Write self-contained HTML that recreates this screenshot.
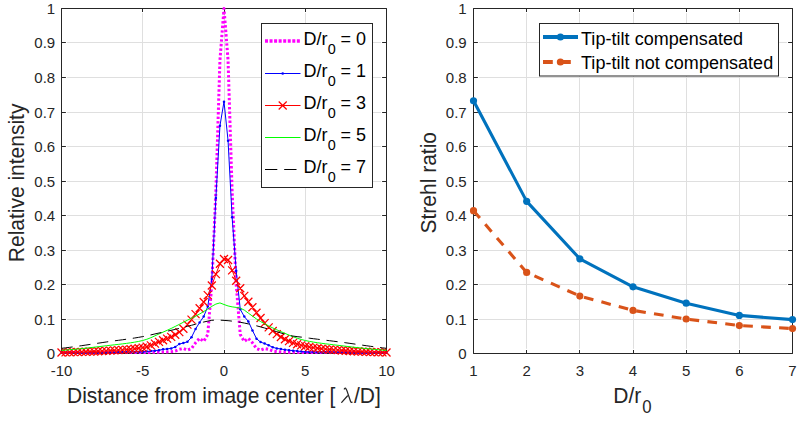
<!DOCTYPE html>
<html><head><meta charset="utf-8"><title>PSF and Strehl ratio</title>
<style>html,body{margin:0;padding:0;background:#fff;}body{width:805px;height:422px;position:relative;overflow:hidden;font-family:"Liberation Sans",sans-serif;}</style></head>
<body>
<svg width="805" height="422" viewBox="0 0 805 422" style="position:absolute;left:0;top:0">
<rect width="805" height="422" fill="#fff"/>
<path d="M142.5,13.2 V348.8 M224.5,13.2 V348.8 M305.5,13.2 V348.8 M67.1,319.5 H380.9 M67.1,284.5 H380.9 M67.1,250.5 H380.9 M67.1,215.5 H380.9 M67.1,181.5 H380.9 M67.1,146.5 H380.9 M67.1,112.5 H380.9 M67.1,77.5 H380.9 M67.1,42.5 H380.9" stroke="#dfdfdf" stroke-width="1" fill="none"/>
<path d="M526.5,13.2 V348.8 M579.5,13.2 V348.8 M633.5,13.2 V348.8 M686.5,13.2 V348.8 M739.5,13.2 V348.8 M479.1,319.5 H786.9 M479.1,284.5 H786.9 M479.1,250.5 H786.9 M479.1,215.5 H786.9 M479.1,181.5 H786.9 M479.1,146.5 H786.9 M479.1,112.5 H786.9 M479.1,77.5 H786.9 M479.1,42.5 H786.9" stroke="#dfdfdf" stroke-width="1" fill="none"/>
<path d="M61.5,8.5 H386.5 V353.5 H61.5 Z M61.5,353.5 v-3.5 M61.5,8.5 v3.5 M142.5,353.5 v-3.5 M142.5,8.5 v3.5 M224.5,353.5 v-3.5 M224.5,8.5 v3.5 M305.5,353.5 v-3.5 M305.5,8.5 v3.5 M386.5,353.5 v-3.5 M386.5,8.5 v3.5 M61.5,353.5 h4.4 M386.5,353.5 h-4.4 M61.5,319.5 h4.4 M386.5,319.5 h-4.4 M61.5,284.5 h4.4 M386.5,284.5 h-4.4 M61.5,250.5 h4.4 M386.5,250.5 h-4.4 M61.5,215.5 h4.4 M386.5,215.5 h-4.4 M61.5,181.5 h4.4 M386.5,181.5 h-4.4 M61.5,146.5 h4.4 M386.5,146.5 h-4.4 M61.5,112.5 h4.4 M386.5,112.5 h-4.4 M61.5,77.5 h4.4 M386.5,77.5 h-4.4 M61.5,42.5 h4.4 M386.5,42.5 h-4.4 M61.5,8.5 h4.4 M386.5,8.5 h-4.4" stroke="#262626" stroke-width="1" fill="none"/>
<path d="M473.5,8.5 H792.5 V353.5 H473.5 Z M473.5,353.5 v-3.5 M473.5,8.5 v3.5 M526.5,353.5 v-3.5 M526.5,8.5 v3.5 M579.5,353.5 v-3.5 M579.5,8.5 v3.5 M633.5,353.5 v-3.5 M633.5,8.5 v3.5 M686.5,353.5 v-3.5 M686.5,8.5 v3.5 M739.5,353.5 v-3.5 M739.5,8.5 v3.5 M792.5,353.5 v-3.5 M792.5,8.5 v3.5 M473.5,353.5 h4.4 M792.5,353.5 h-4.4 M473.5,319.5 h4.4 M792.5,319.5 h-4.4 M473.5,284.5 h4.4 M792.5,284.5 h-4.4 M473.5,250.5 h4.4 M792.5,250.5 h-4.4 M473.5,215.5 h4.4 M792.5,215.5 h-4.4 M473.5,181.5 h4.4 M792.5,181.5 h-4.4 M473.5,146.5 h4.4 M792.5,146.5 h-4.4 M473.5,112.5 h4.4 M792.5,112.5 h-4.4 M473.5,77.5 h4.4 M792.5,77.5 h-4.4 M473.5,42.5 h4.4 M792.5,42.5 h-4.4 M473.5,8.5 h4.4 M792.5,8.5 h-4.4" stroke="#262626" stroke-width="1" fill="none"/>
<g fill="none" stroke-linejoin="round">
<path d="M61.50,352.46 L65.56,352.46 L69.62,352.46 L73.69,352.46 L77.75,352.46 L81.81,352.46 L85.88,352.46 L89.94,352.46 L94.00,352.46 L98.06,352.46 L102.12,352.46 L106.19,352.46 L110.25,352.46 L114.31,352.46 L118.38,352.46 L122.44,352.46 L126.50,352.46 L130.56,352.46 L134.62,352.46 L138.69,352.46 L142.75,352.46 L146.81,352.46 L150.88,352.36 L154.94,352.29 L159.00,352.19 L163.06,352.05 L167.12,351.91 L171.19,351.71 L175.25,351.02 L179.31,349.36 L183.38,348.50 L187.44,350.12 L191.50,348.50 L195.56,342.81 L199.62,338.32 L203.69,341.43 L207.75,334.52 L211.81,284.50 L215.88,191.35 L219.94,60.25 L224.00,8.50 L228.06,60.25 L232.12,191.35 L236.19,284.50 L240.25,334.52 L244.31,341.43 L248.37,338.32 L252.44,342.81 L256.50,348.50 L260.56,350.12 L264.62,348.50 L268.69,349.36 L272.75,351.02 L276.81,351.71 L280.88,351.91 L284.94,352.05 L289.00,352.19 L293.06,352.29 L297.12,352.36 L301.19,352.46 L305.25,352.46 L309.31,352.46 L313.38,352.46 L317.44,352.46 L321.50,352.46 L325.56,352.46 L329.62,352.46 L333.69,352.46 L337.75,352.46 L341.81,352.46 L345.88,352.46 L349.94,352.46 L354.00,352.46 L358.06,352.46 L362.12,352.46 L366.19,352.46 L370.25,352.46 L374.31,352.46 L378.38,352.46 L382.44,352.46 L386.50,352.46" stroke="#ff00ff" stroke-width="3" stroke-dasharray="2.4 2.15"/>
<path d="M61.50,352.81 L65.56,352.78 L69.62,352.75 L73.69,352.72 L77.75,352.69 L81.81,352.67 L85.88,352.64 L89.94,352.61 L94.00,352.58 L98.06,352.55 L102.12,352.52 L106.19,352.49 L110.25,352.46 L114.31,352.40 L118.38,352.34 L122.44,352.27 L126.50,352.21 L130.56,352.14 L134.62,352.08 L138.69,352.01 L142.75,351.95 L146.81,351.51 L150.88,351.07 L154.94,350.63 L159.00,350.19 L163.06,349.36 L167.12,348.91 L171.19,348.39 L175.25,346.94 L179.31,344.01 L183.38,343.01 L187.44,341.77 L191.50,337.29 L195.56,329.00 L199.62,322.45 L203.69,316.58 L207.75,306.58 L211.81,278.98 L215.88,197.91 L219.94,125.80 L224.00,101.65 L228.06,140.63 L232.12,217.22 L236.19,270.70 L240.25,309.34 L244.31,316.58 L248.37,321.42 L252.44,330.38 L256.50,338.67 L260.56,342.12 L264.62,343.50 L268.69,345.22 L272.75,347.29 L276.81,348.39 L280.88,349.01 L284.94,349.70 L289.00,350.19 L293.06,350.63 L297.12,351.07 L301.19,351.51 L305.25,351.95 L309.31,352.01 L313.38,352.08 L317.44,352.14 L321.50,352.21 L325.56,352.27 L329.62,352.34 L333.69,352.40 L337.75,352.46 L341.81,352.49 L345.88,352.52 L349.94,352.55 L354.00,352.58 L358.06,352.61 L362.12,352.64 L366.19,352.67 L370.25,352.69 L374.31,352.72 L378.38,352.75 L382.44,352.78 L386.50,352.81" stroke="#0000ff" stroke-width="1"/>
<g fill="#0000ff" stroke="none"><circle cx="61.50" cy="352.81" r="1.25"/><circle cx="65.56" cy="352.78" r="1.25"/><circle cx="69.62" cy="352.75" r="1.25"/><circle cx="73.69" cy="352.72" r="1.25"/><circle cx="77.75" cy="352.69" r="1.25"/><circle cx="81.81" cy="352.67" r="1.25"/><circle cx="85.88" cy="352.64" r="1.25"/><circle cx="89.94" cy="352.61" r="1.25"/><circle cx="94.00" cy="352.58" r="1.25"/><circle cx="98.06" cy="352.55" r="1.25"/><circle cx="102.12" cy="352.52" r="1.25"/><circle cx="106.19" cy="352.49" r="1.25"/><circle cx="110.25" cy="352.46" r="1.25"/><circle cx="114.31" cy="352.40" r="1.25"/><circle cx="118.38" cy="352.34" r="1.25"/><circle cx="122.44" cy="352.27" r="1.25"/><circle cx="126.50" cy="352.21" r="1.25"/><circle cx="130.56" cy="352.14" r="1.25"/><circle cx="134.62" cy="352.08" r="1.25"/><circle cx="138.69" cy="352.01" r="1.25"/><circle cx="142.75" cy="351.95" r="1.25"/><circle cx="146.81" cy="351.51" r="1.25"/><circle cx="150.88" cy="351.07" r="1.25"/><circle cx="154.94" cy="350.63" r="1.25"/><circle cx="159.00" cy="350.19" r="1.25"/><circle cx="163.06" cy="349.36" r="1.25"/><circle cx="167.12" cy="348.91" r="1.25"/><circle cx="171.19" cy="348.39" r="1.25"/><circle cx="175.25" cy="346.94" r="1.25"/><circle cx="179.31" cy="344.01" r="1.25"/><circle cx="183.38" cy="343.01" r="1.25"/><circle cx="187.44" cy="341.77" r="1.25"/><circle cx="191.50" cy="337.29" r="1.25"/><circle cx="195.56" cy="329.00" r="1.25"/><circle cx="199.62" cy="322.45" r="1.25"/><circle cx="203.69" cy="316.58" r="1.25"/><circle cx="207.75" cy="306.58" r="1.25"/><circle cx="211.81" cy="278.98" r="1.25"/><circle cx="215.88" cy="197.91" r="1.25"/><circle cx="219.94" cy="125.80" r="1.25"/><circle cx="224.00" cy="101.65" r="1.25"/><circle cx="228.06" cy="140.63" r="1.25"/><circle cx="232.12" cy="217.22" r="1.25"/><circle cx="236.19" cy="270.70" r="1.25"/><circle cx="240.25" cy="309.34" r="1.25"/><circle cx="244.31" cy="316.58" r="1.25"/><circle cx="248.37" cy="321.42" r="1.25"/><circle cx="252.44" cy="330.38" r="1.25"/><circle cx="256.50" cy="338.67" r="1.25"/><circle cx="260.56" cy="342.12" r="1.25"/><circle cx="264.62" cy="343.50" r="1.25"/><circle cx="268.69" cy="345.22" r="1.25"/><circle cx="272.75" cy="347.29" r="1.25"/><circle cx="276.81" cy="348.39" r="1.25"/><circle cx="280.88" cy="349.01" r="1.25"/><circle cx="284.94" cy="349.70" r="1.25"/><circle cx="289.00" cy="350.19" r="1.25"/><circle cx="293.06" cy="350.63" r="1.25"/><circle cx="297.12" cy="351.07" r="1.25"/><circle cx="301.19" cy="351.51" r="1.25"/><circle cx="305.25" cy="351.95" r="1.25"/><circle cx="309.31" cy="352.01" r="1.25"/><circle cx="313.38" cy="352.08" r="1.25"/><circle cx="317.44" cy="352.14" r="1.25"/><circle cx="321.50" cy="352.21" r="1.25"/><circle cx="325.56" cy="352.27" r="1.25"/><circle cx="329.62" cy="352.34" r="1.25"/><circle cx="333.69" cy="352.40" r="1.25"/><circle cx="337.75" cy="352.46" r="1.25"/><circle cx="341.81" cy="352.49" r="1.25"/><circle cx="345.88" cy="352.52" r="1.25"/><circle cx="349.94" cy="352.55" r="1.25"/><circle cx="354.00" cy="352.58" r="1.25"/><circle cx="358.06" cy="352.61" r="1.25"/><circle cx="362.12" cy="352.64" r="1.25"/><circle cx="366.19" cy="352.67" r="1.25"/><circle cx="370.25" cy="352.69" r="1.25"/><circle cx="374.31" cy="352.72" r="1.25"/><circle cx="378.38" cy="352.75" r="1.25"/><circle cx="382.44" cy="352.78" r="1.25"/><circle cx="386.50" cy="352.81" r="1.25"/></g>
<path d="M61.50,352.46 L65.56,352.38 L69.62,352.28 L73.69,352.17 L77.75,352.05 L81.81,351.93 L85.88,351.79 L89.94,351.63 L94.00,351.47 L98.06,351.29 L102.12,351.08 L106.19,350.87 L110.25,350.65 L114.31,350.42 L118.38,350.17 L122.44,349.90 L126.50,349.59 L130.56,349.22 L134.62,348.80 L138.69,348.28 L142.75,347.63 L146.81,346.70 L150.88,345.33 L154.94,343.63 L159.00,341.83 L163.06,340.24 L167.12,338.67 L171.19,336.86 L175.25,334.78 L179.31,332.14 L183.38,328.81 L187.44,324.68 L191.50,319.57 L195.56,314.12 L199.62,308.31 L203.69,302.02 L207.75,295.13 L211.81,285.53 L215.88,274.15 L219.94,263.80 L224.00,258.97 L228.06,260.00 L232.12,270.36 L236.19,280.70 L240.25,288.30 L244.31,295.88 L248.37,301.75 L252.44,307.22 L256.50,312.69 L260.56,318.06 L264.62,323.09 L268.69,327.38 L272.75,330.95 L276.81,334.10 L280.88,336.94 L284.94,339.23 L289.00,341.18 L293.06,342.82 L297.12,344.19 L301.19,345.33 L305.25,346.25 L309.31,347.02 L313.38,347.67 L317.44,348.22 L321.50,348.70 L325.56,349.13 L329.62,349.51 L333.69,349.85 L337.75,350.17 L341.81,350.46 L345.88,350.74 L349.94,351.00 L354.00,351.23 L358.06,351.44 L362.12,351.63 L366.19,351.81 L370.25,351.96 L374.31,352.11 L378.38,352.24 L382.44,352.36 L386.50,352.46" stroke="#ff0000" stroke-width="1"/>
<path d="M57.50,348.46 l8,8 M57.50,356.46 l8,-8 M61.56,348.38 l8,8 M61.56,356.38 l8,-8 M65.62,348.28 l8,8 M65.62,356.28 l8,-8 M69.69,348.17 l8,8 M69.69,356.17 l8,-8 M73.75,348.05 l8,8 M73.75,356.05 l8,-8 M77.81,347.93 l8,8 M77.81,355.93 l8,-8 M81.88,347.79 l8,8 M81.88,355.79 l8,-8 M85.94,347.63 l8,8 M85.94,355.63 l8,-8 M90.00,347.47 l8,8 M90.00,355.47 l8,-8 M94.06,347.29 l8,8 M94.06,355.29 l8,-8 M98.12,347.08 l8,8 M98.12,355.08 l8,-8 M102.19,346.87 l8,8 M102.19,354.87 l8,-8 M106.25,346.65 l8,8 M106.25,354.65 l8,-8 M110.31,346.42 l8,8 M110.31,354.42 l8,-8 M114.38,346.17 l8,8 M114.38,354.17 l8,-8 M118.44,345.90 l8,8 M118.44,353.90 l8,-8 M122.50,345.59 l8,8 M122.50,353.59 l8,-8 M126.56,345.22 l8,8 M126.56,353.22 l8,-8 M130.62,344.80 l8,8 M130.62,352.80 l8,-8 M134.69,344.28 l8,8 M134.69,352.28 l8,-8 M138.75,343.63 l8,8 M138.75,351.63 l8,-8 M142.81,342.70 l8,8 M142.81,350.70 l8,-8 M146.88,341.33 l8,8 M146.88,349.33 l8,-8 M150.94,339.63 l8,8 M150.94,347.63 l8,-8 M155.00,337.83 l8,8 M155.00,345.83 l8,-8 M159.06,336.24 l8,8 M159.06,344.24 l8,-8 M163.12,334.67 l8,8 M163.12,342.67 l8,-8 M167.19,332.86 l8,8 M167.19,340.86 l8,-8 M171.25,330.78 l8,8 M171.25,338.78 l8,-8 M175.31,328.14 l8,8 M175.31,336.14 l8,-8 M179.38,324.81 l8,8 M179.38,332.81 l8,-8 M183.44,320.68 l8,8 M183.44,328.68 l8,-8 M187.50,315.57 l8,8 M187.50,323.57 l8,-8 M191.56,310.12 l8,8 M191.56,318.12 l8,-8 M195.62,304.31 l8,8 M195.62,312.31 l8,-8 M199.69,298.02 l8,8 M199.69,306.02 l8,-8 M203.75,291.13 l8,8 M203.75,299.13 l8,-8 M207.81,281.53 l8,8 M207.81,289.53 l8,-8 M211.88,270.15 l8,8 M211.88,278.15 l8,-8 M215.94,259.80 l8,8 M215.94,267.80 l8,-8 M220.00,254.97 l8,8 M220.00,262.97 l8,-8 M224.06,256.00 l8,8 M224.06,264.00 l8,-8 M228.12,266.36 l8,8 M228.12,274.36 l8,-8 M232.19,276.70 l8,8 M232.19,284.70 l8,-8 M236.25,284.30 l8,8 M236.25,292.30 l8,-8 M240.31,291.88 l8,8 M240.31,299.88 l8,-8 M244.37,297.75 l8,8 M244.37,305.75 l8,-8 M248.44,303.22 l8,8 M248.44,311.22 l8,-8 M252.50,308.69 l8,8 M252.50,316.69 l8,-8 M256.56,314.06 l8,8 M256.56,322.06 l8,-8 M260.62,319.09 l8,8 M260.62,327.09 l8,-8 M264.69,323.38 l8,8 M264.69,331.38 l8,-8 M268.75,326.95 l8,8 M268.75,334.95 l8,-8 M272.81,330.10 l8,8 M272.81,338.10 l8,-8 M276.88,332.94 l8,8 M276.88,340.94 l8,-8 M280.94,335.23 l8,8 M280.94,343.23 l8,-8 M285.00,337.18 l8,8 M285.00,345.18 l8,-8 M289.06,338.82 l8,8 M289.06,346.82 l8,-8 M293.12,340.19 l8,8 M293.12,348.19 l8,-8 M297.19,341.33 l8,8 M297.19,349.33 l8,-8 M301.25,342.25 l8,8 M301.25,350.25 l8,-8 M305.31,343.02 l8,8 M305.31,351.02 l8,-8 M309.38,343.67 l8,8 M309.38,351.67 l8,-8 M313.44,344.22 l8,8 M313.44,352.22 l8,-8 M317.50,344.70 l8,8 M317.50,352.70 l8,-8 M321.56,345.13 l8,8 M321.56,353.13 l8,-8 M325.62,345.51 l8,8 M325.62,353.51 l8,-8 M329.69,345.85 l8,8 M329.69,353.85 l8,-8 M333.75,346.17 l8,8 M333.75,354.17 l8,-8 M337.81,346.46 l8,8 M337.81,354.46 l8,-8 M341.88,346.74 l8,8 M341.88,354.74 l8,-8 M345.94,347.00 l8,8 M345.94,355.00 l8,-8 M350.00,347.23 l8,8 M350.00,355.23 l8,-8 M354.06,347.44 l8,8 M354.06,355.44 l8,-8 M358.12,347.63 l8,8 M358.12,355.63 l8,-8 M362.19,347.81 l8,8 M362.19,355.81 l8,-8 M366.25,347.96 l8,8 M366.25,355.96 l8,-8 M370.31,348.11 l8,8 M370.31,356.11 l8,-8 M374.38,348.24 l8,8 M374.38,356.24 l8,-8 M378.44,348.36 l8,8 M378.44,356.36 l8,-8 M382.50,348.46 l8,8 M382.50,356.46 l8,-8" stroke="#ff0000" stroke-width="1.25"/>
<path d="M61.50,350.39 L65.56,350.08 L69.62,349.74 L73.69,349.38 L77.75,348.99 L81.81,348.58 L85.88,348.15 L89.94,347.70 L94.00,347.24 L98.06,346.75 L102.12,346.25 L106.19,345.76 L110.25,345.29 L114.31,344.83 L118.38,344.37 L122.44,343.89 L126.50,343.38 L130.56,342.81 L134.62,342.16 L138.69,341.40 L142.75,340.49 L146.81,339.28 L150.88,337.69 L154.94,335.85 L159.00,333.93 L163.06,332.12 L167.12,330.32 L171.19,328.43 L175.25,326.42 L179.31,324.35 L183.38,322.25 L187.44,320.19 L191.50,318.20 L195.56,316.18 L199.62,314.00 L203.69,311.56 L207.75,309.00 L211.81,306.34 L215.88,304.07 L219.94,302.91 L224.00,304.51 L228.06,305.94 L232.12,306.85 L236.19,307.42 L240.25,308.14 L244.31,310.12 L248.37,313.13 L252.44,316.10 L256.50,318.98 L260.56,321.51 L264.62,323.82 L268.69,325.95 L272.75,327.94 L276.81,329.82 L280.88,331.62 L284.94,333.37 L289.00,335.10 L293.06,336.73 L297.12,338.19 L301.19,339.45 L305.25,340.49 L309.31,341.35 L313.38,342.08 L317.44,342.72 L321.50,343.29 L325.56,343.82 L329.62,344.31 L333.69,344.80 L337.75,345.28 L341.81,345.76 L345.88,346.25 L349.94,346.75 L354.00,347.24 L358.06,347.70 L362.12,348.15 L366.19,348.58 L370.25,348.99 L374.31,349.38 L378.38,349.74 L382.44,350.08 L386.50,350.39" stroke="#00ff00" stroke-width="1"/>
<path d="M61.50,348.32 L65.56,347.85 L69.62,347.34 L73.69,346.80 L77.75,346.24 L81.81,345.66 L85.88,345.06 L89.94,344.44 L94.00,343.83 L98.06,343.21 L102.12,342.60 L106.19,342.01 L110.25,341.43 L114.31,340.87 L118.38,340.32 L122.44,339.77 L126.50,339.20 L130.56,338.62 L134.62,338.00 L138.69,337.33 L142.75,336.60 L146.81,335.77 L150.88,334.88 L154.94,333.95 L159.00,333.02 L163.06,332.12 L167.12,331.22 L171.19,330.32 L175.25,329.39 L179.31,328.41 L183.38,327.39 L187.44,326.34 L191.50,325.29 L195.56,324.22 L199.62,323.09 L203.69,322.03 L207.75,321.14 L211.81,320.30 L215.88,320.04 L219.94,320.17 L224.00,320.38 L228.06,320.68 L232.12,321.13 L236.19,321.65 L240.25,322.27 L244.31,323.04 L248.37,323.90 L252.44,324.81 L256.50,325.81 L260.56,326.88 L264.62,328.01 L268.69,329.22 L272.75,330.47 L276.81,331.71 L280.88,332.94 L284.94,334.26 L289.00,335.36 L293.06,336.08 L297.12,336.63 L301.19,337.11 L305.25,337.63 L309.31,338.18 L313.38,338.70 L317.44,339.21 L321.50,339.71 L325.56,340.21 L329.62,340.71 L333.69,341.22 L337.75,341.74 L341.81,342.26 L345.88,342.81 L349.94,343.36 L354.00,343.94 L358.06,344.53 L362.12,345.12 L366.19,345.70 L370.25,346.27 L374.31,346.82 L378.38,347.35 L382.44,347.85 L386.50,348.32" stroke="#000" stroke-width="1" stroke-dasharray="11.2 6.8"/>
</g>
<path d="M473.50,100.79 L526.67,201.35 L579.83,258.80 L633.00,286.81 L686.17,303.20 L739.33,315.41 L792.50,319.59" stroke="#0072bd" stroke-width="3.1" fill="none" stroke-linejoin="round"/>
<g fill="#0072bd"><circle cx="473.50" cy="100.79" r="3.6"/><circle cx="526.67" cy="201.35" r="3.6"/><circle cx="579.83" cy="258.80" r="3.6"/><circle cx="633.00" cy="286.81" r="3.6"/><circle cx="686.17" cy="303.20" r="3.6"/><circle cx="739.33" cy="315.41" r="3.6"/><circle cx="792.50" cy="319.59" r="3.6"/></g>
<path d="M473.50,210.67 L526.67,272.43 L579.83,296.06 L633.00,310.38 L686.17,319.00 L739.33,325.56 L792.50,328.56" stroke="#d95319" stroke-width="3.1" fill="none" stroke-linejoin="round" stroke-dasharray="9.7 8.3"/>
<g fill="#d95319"><circle cx="473.50" cy="210.67" r="3.6"/><circle cx="526.67" cy="272.43" r="3.6"/><circle cx="579.83" cy="296.06" r="3.6"/><circle cx="633.00" cy="310.38" r="3.6"/><circle cx="686.17" cy="319.00" r="3.6"/><circle cx="739.33" cy="325.56" r="3.6"/><circle cx="792.50" cy="328.56" r="3.6"/></g>
<text x="55.2" y="359.00" font-size="15" text-anchor="end" font-family="Liberation Sans, sans-serif" fill="#262626">0</text>
<text x="466.7" y="359.00" font-size="15" text-anchor="end" font-family="Liberation Sans, sans-serif" fill="#262626">0</text>
<text x="55.2" y="325.00" font-size="15" text-anchor="end" font-family="Liberation Sans, sans-serif" fill="#262626">0.1</text>
<text x="466.7" y="325.00" font-size="15" text-anchor="end" font-family="Liberation Sans, sans-serif" fill="#262626">0.1</text>
<text x="55.2" y="290.00" font-size="15" text-anchor="end" font-family="Liberation Sans, sans-serif" fill="#262626">0.2</text>
<text x="466.7" y="290.00" font-size="15" text-anchor="end" font-family="Liberation Sans, sans-serif" fill="#262626">0.2</text>
<text x="55.2" y="256.00" font-size="15" text-anchor="end" font-family="Liberation Sans, sans-serif" fill="#262626">0.3</text>
<text x="466.7" y="256.00" font-size="15" text-anchor="end" font-family="Liberation Sans, sans-serif" fill="#262626">0.3</text>
<text x="55.2" y="221.00" font-size="15" text-anchor="end" font-family="Liberation Sans, sans-serif" fill="#262626">0.4</text>
<text x="466.7" y="221.00" font-size="15" text-anchor="end" font-family="Liberation Sans, sans-serif" fill="#262626">0.4</text>
<text x="55.2" y="187.00" font-size="15" text-anchor="end" font-family="Liberation Sans, sans-serif" fill="#262626">0.5</text>
<text x="466.7" y="187.00" font-size="15" text-anchor="end" font-family="Liberation Sans, sans-serif" fill="#262626">0.5</text>
<text x="55.2" y="152.00" font-size="15" text-anchor="end" font-family="Liberation Sans, sans-serif" fill="#262626">0.6</text>
<text x="466.7" y="152.00" font-size="15" text-anchor="end" font-family="Liberation Sans, sans-serif" fill="#262626">0.6</text>
<text x="55.2" y="118.00" font-size="15" text-anchor="end" font-family="Liberation Sans, sans-serif" fill="#262626">0.7</text>
<text x="466.7" y="118.00" font-size="15" text-anchor="end" font-family="Liberation Sans, sans-serif" fill="#262626">0.7</text>
<text x="55.2" y="83.00" font-size="15" text-anchor="end" font-family="Liberation Sans, sans-serif" fill="#262626">0.8</text>
<text x="466.7" y="83.00" font-size="15" text-anchor="end" font-family="Liberation Sans, sans-serif" fill="#262626">0.8</text>
<text x="55.2" y="48.00" font-size="15" text-anchor="end" font-family="Liberation Sans, sans-serif" fill="#262626">0.9</text>
<text x="466.7" y="48.00" font-size="15" text-anchor="end" font-family="Liberation Sans, sans-serif" fill="#262626">0.9</text>
<text x="55.2" y="14.00" font-size="15" text-anchor="end" font-family="Liberation Sans, sans-serif" fill="#262626">1</text>
<text x="466.7" y="14.00" font-size="15" text-anchor="end" font-family="Liberation Sans, sans-serif" fill="#262626">1</text>
<text x="61.50" y="375.6" font-size="15" text-anchor="middle" font-family="Liberation Sans, sans-serif" fill="#262626">-10</text>
<text x="142.75" y="375.6" font-size="15" text-anchor="middle" font-family="Liberation Sans, sans-serif" fill="#262626">-5</text>
<text x="224.00" y="375.6" font-size="15" text-anchor="middle" font-family="Liberation Sans, sans-serif" fill="#262626">0</text>
<text x="305.25" y="375.6" font-size="15" text-anchor="middle" font-family="Liberation Sans, sans-serif" fill="#262626">5</text>
<text x="386.50" y="375.6" font-size="15" text-anchor="middle" font-family="Liberation Sans, sans-serif" fill="#262626">10</text>
<text x="473.50" y="375.6" font-size="15" text-anchor="middle" font-family="Liberation Sans, sans-serif" fill="#262626">1</text>
<text x="526.67" y="375.6" font-size="15" text-anchor="middle" font-family="Liberation Sans, sans-serif" fill="#262626">2</text>
<text x="579.83" y="375.6" font-size="15" text-anchor="middle" font-family="Liberation Sans, sans-serif" fill="#262626">3</text>
<text x="633.00" y="375.6" font-size="15" text-anchor="middle" font-family="Liberation Sans, sans-serif" fill="#262626">4</text>
<text x="686.17" y="375.6" font-size="15" text-anchor="middle" font-family="Liberation Sans, sans-serif" fill="#262626">5</text>
<text x="739.33" y="375.6" font-size="15" text-anchor="middle" font-family="Liberation Sans, sans-serif" fill="#262626">6</text>
<text x="792.50" y="375.6" font-size="15" text-anchor="middle" font-family="Liberation Sans, sans-serif" fill="#262626">7</text>
<text transform="translate(67,403) scale(1,1.07)" font-size="21" font-family="Liberation Sans, sans-serif" fill="#262626">Distance from image center [</text>
<path d="M344.3,389.0 Q344.9,387.9 345.7,388.4 Q346.3,388.9 346.9,390.6 L350.5,401.3 Q350.9,402.6 352.1,402.2 M347.4,396.0 L341.7,402.4" stroke="#262626" stroke-width="1.25" fill="none" stroke-linecap="round" stroke-linejoin="round"/>
<text transform="translate(354,403) scale(1,1.07)" font-size="21" font-family="Liberation Sans, sans-serif" fill="#262626">/D]</text>
<text transform="translate(24,262.2) rotate(-90) scale(1,1.07)" font-size="21" font-family="Liberation Sans, sans-serif" fill="#262626">Relative intensity</text>
<text transform="translate(436,233.5) rotate(-90) scale(1,1.07)" font-size="21" font-family="Liberation Sans, sans-serif" fill="#262626">Strehl ratio</text>
<text transform="translate(613.3,403) scale(1,1.07)" font-size="21" font-family="Liberation Sans, sans-serif" fill="#262626">D/r<tspan dx="0.9" dy="9.4" font-size="16.8">0</tspan></text>
<rect x="261.5" y="23.5" width="111" height="164" fill="#fff" stroke="#262626" stroke-width="1"/>
<path d="M265,41 H300.5" stroke="#ff00ff" stroke-width="3.5" stroke-dasharray="3 1.55" fill="none"/>
<path d="M265,73.5 H300.5" stroke="#0000ff" stroke-width="1" fill="none"/><circle cx="282.7" cy="73.5" r="1.3" fill="#0000ff"/>
<path d="M265,105.5 H300.5 M278.7,101.5 l8,8 M278.7,109.5 l8,-8" stroke="#ff0000" stroke-width="1.2" fill="none"/>
<path d="M265,137.5 H300.5" stroke="#00ff00" stroke-width="1" fill="none"/>
<path d="M265,169.5 H300.5" stroke="#000" stroke-width="1" stroke-dasharray="12.3 6.9" fill="none"/>
<text transform="translate(303.4,44.9) scale(1,1.05)" font-size="18" font-family="Liberation Sans, sans-serif" fill="#000">D/r<tspan dx="0.5" dy="8.6" font-size="14.4">0</tspan><tspan dx="-0.5" dy="-8.6"> = 0</tspan></text>
<text transform="translate(303.4,76.9) scale(1,1.05)" font-size="18" font-family="Liberation Sans, sans-serif" fill="#000">D/r<tspan dx="0.5" dy="8.6" font-size="14.4">0</tspan><tspan dx="-0.5" dy="-8.6"> = 1</tspan></text>
<text transform="translate(303.4,108.9) scale(1,1.05)" font-size="18" font-family="Liberation Sans, sans-serif" fill="#000">D/r<tspan dx="0.5" dy="8.6" font-size="14.4">0</tspan><tspan dx="-0.5" dy="-8.6"> = 3</tspan></text>
<text transform="translate(303.4,140.9) scale(1,1.05)" font-size="18" font-family="Liberation Sans, sans-serif" fill="#000">D/r<tspan dx="0.5" dy="8.6" font-size="14.4">0</tspan><tspan dx="-0.5" dy="-8.6"> = 5</tspan></text>
<text transform="translate(303.4,172.9) scale(1,1.05)" font-size="18" font-family="Liberation Sans, sans-serif" fill="#000">D/r<tspan dx="0.5" dy="8.6" font-size="14.4">0</tspan><tspan dx="-0.5" dy="-8.6"> = 7</tspan></text>
<rect x="539.5" y="23.5" width="239" height="52.5" fill="#fff" stroke="#262626" stroke-width="1"/>
<path d="M543,37 H578" stroke="#0072bd" stroke-width="4" fill="none"/><circle cx="560.4" cy="37" r="3.6" fill="#0072bd"/>
<path d="M543,62 H578" stroke="#d95319" stroke-width="4" stroke-dasharray="9.8 8.2" fill="none"/><circle cx="560.4" cy="62" r="3.6" fill="#d95319"/>
<text transform="translate(581,44.9) scale(1,1.05)" font-size="18" letter-spacing="0.04" font-family="Liberation Sans, sans-serif" fill="#000">Tip-tilt compensated</text>
<text transform="translate(581,69) scale(1,1.05)" font-size="18" letter-spacing="0.04" font-family="Liberation Sans, sans-serif" fill="#000">Tip-tilt not compensated</text>
</svg>
</body></html>
